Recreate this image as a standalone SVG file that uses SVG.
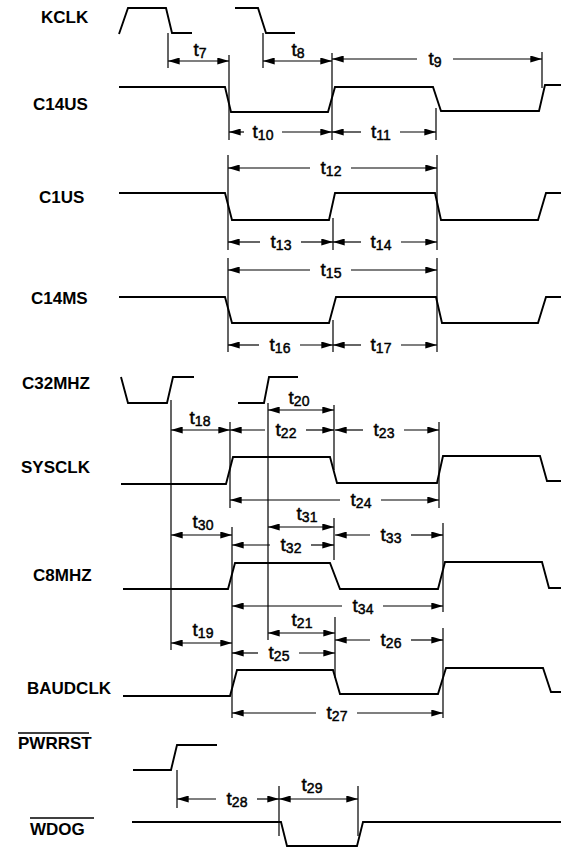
<svg xmlns="http://www.w3.org/2000/svg" width="561" height="849" viewBox="0 0 561 849">
<defs>
<marker id="ah" viewBox="0 0 10 6" refX="10" refY="3" markerWidth="13" markerHeight="7" markerUnits="userSpaceOnUse" orient="auto-start-reverse"><path d="M0,0 L10,3 L0,6 z" fill="#000"/></marker>
</defs>
<style>
.sig{font-family:"Liberation Sans",Arial,sans-serif;font-weight:bold;font-size:17px;fill:#000}
.wave{fill:none;stroke:#000;stroke-width:1.9;stroke-linejoin:miter}
.ext{stroke:#000;stroke-width:1.2;fill:none}
.arr{stroke:#000;stroke-width:1.2;fill:none;marker-end:url(#ah)}
.arr2{stroke:#000;stroke-width:1.2;fill:none;marker-start:url(#ah);marker-end:url(#ah)}
.tl{font-family:"Liberation Sans",Arial,sans-serif;font-size:19px;fill:#000;stroke:#000;stroke-width:0.45;text-anchor:middle}
.sub{font-size:14px}
.ovl{stroke:#000;stroke-width:1.6}
</style>
<rect width="561" height="849" fill="#fff"/>

<g id="KCLK">
<text class="sig" x="41" y="23">KCLK</text>
<path class="wave" d="M119,34 L128,8 L166,8 L172,33 L192,33"/>
<path class="wave" d="M235,8 L258,8 L266,33 L295,33"/>
</g>
<g id="C14US">
<text class="sig" x="33" y="110">C14US</text>
<path class="wave" d="M119,87 L225,87 L231,112 L328,112 L335,87 L433,87 L441,111 L539,111 L545,85 L561,85"/>
</g>
<g id="C1US">
<text class="sig" x="39" y="203">C1US</text>
<path class="wave" d="M119,193 L225,193 L232,220 L329,220 L335,193 L435,193 L441,220 L538,220 L546,193 L561,193"/>
</g>
<g id="C14MS">
<text class="sig" x="31" y="304">C14MS</text>
<path class="wave" d="M119,297 L225,297 L232,323 L329,323 L336,297 L436,297 L442,323 L538,323 L546,297 L561,297"/>
</g>
<g id="C32MHZ">
<text class="sig" x="22" y="389">C32MHZ</text>
<path class="wave" d="M121,377 L128,403 L167,403 L173,377 L194,377"/>
<path class="wave" d="M238,403 L264,403 L269,377 L298,377"/>
</g>
<g id="SYSCLK">
<text class="sig" x="21" y="473">SYSCLK</text>
<path class="wave" d="M121,484 L226,484 L233,457 L330,457 L337,483 L437,483 L443,456 L540,456 L547,481 L561,481"/>
</g>
<g id="C8MHZ">
<text class="sig" x="33" y="581">C8MHZ</text>
<path class="wave" d="M123,589 L228,589 L235,563 L330,563 L340,589 L438,589 L445,562 L542,562 L549,588 L561,588"/>
</g>
<g id="BAUDCLK">
<text class="sig" x="27" y="694">BAUDCLK</text>
<path class="wave" d="M123,696 L230,696 L237,670 L333,670 L340,694 L438,694 L446,668 L543,668 L551,692 L561,692"/>
</g>
<g id="PWRRST">
<text class="sig" x="18" y="749">PWRRST</text>
<line class="ovl" x1="18" y1="733" x2="89" y2="733"/>
<path class="wave" d="M133,770 L171,770 L177,745 L217,745"/>
</g>
<g id="WDOG">
<text class="sig" x="30" y="835">WDOG</text>
<line class="ovl" x1="30" y1="818" x2="94" y2="818"/>
<path class="wave" d="M132,822 L281,822 L287,846 L357,846 L363,822 L561,822"/>
</g>

<g id="connectors">
<path class="ext" d="M168,33 V68 M229,55 V140 M263,33 V68 M332,53 V140 M542,52 V88 M436,108 V140
M228,155 V250 M333,218 V250 M437,155 V250
M228,258 V352 M333,320 V352 M437,258 V352
M171,400 V650 M268,403 V640 M230,422 V508 M334,405 V470 M439,422 V508
M232,527 V718 M334,518 V560 M443,523 V612 M335,617 V678 M443,628 V718
M177,770 V808 M279,786 V836 M358,786 V836"/>

<line class="arr2" x1="168" y1="61" x2="229" y2="61"/>
<line class="arr2" x1="263" y1="61" x2="332" y2="61"/>
<line class="arr2" x1="171" y1="430" x2="230" y2="430"/>
<line class="arr2" x1="268" y1="410" x2="334" y2="410"/>
<line class="arr2" x1="171" y1="535" x2="232" y2="535"/>
<line class="arr2" x1="268" y1="527" x2="334" y2="527"/>
<line class="arr2" x1="268" y1="633" x2="335" y2="633"/>
<line class="arr2" x1="171" y1="643" x2="232" y2="643"/>
<line class="arr2" x1="279" y1="799" x2="358" y2="799"/>

<path class="arr" d="M417,59 H332"/><path class="arr" d="M453,59 H542"/>
<path class="arr" d="M244,132 H229"/><path class="arr" d="M282,132 H332"/>
<path class="arr" d="M361,132 H332"/><path class="arr" d="M400,132 H436"/>
<path class="arr" d="M310,168 H228"/><path class="arr" d="M351,168 H437"/>
<path class="arr" d="M260,242 H228"/><path class="arr" d="M301,242 H333"/>
<path class="arr" d="M361,242 H333"/><path class="arr" d="M401,242 H437"/>
<path class="arr" d="M310,270 H228"/><path class="arr" d="M351,270 H437"/>
<path class="arr" d="M259,345 H228"/><path class="arr" d="M300,345 H333"/>
<path class="arr" d="M361,345 H333"/><path class="arr" d="M401,345 H437"/>
<path class="arr" d="M265,430 H230"/><path class="arr" d="M306,430 H334"/>
<path class="arr" d="M363,430 H335"/><path class="arr" d="M404,430 H439"/>
<path class="arr" d="M340,500 H230"/><path class="arr" d="M381,500 H439"/>
<path class="arr" d="M270,545 H232"/><path class="arr" d="M311,545 H334"/>
<path class="arr" d="M370,535 H335"/><path class="arr" d="M411,535 H443"/>
<path class="arr" d="M342,606 H232"/><path class="arr" d="M383,606 H443"/>
<path class="arr" d="M370,640 H335"/><path class="arr" d="M411,640 H443"/>
<path class="arr" d="M258,653 H232"/><path class="arr" d="M299,653 H335"/>
<path class="arr" d="M316,713 H232"/><path class="arr" d="M357,713 H443"/>
<path class="arr" d="M216,799 H177"/><path class="arr" d="M257,799 H279"/>
</g>

<g id="labels">
<text class="tl" x="200" y="56">t<tspan class="sub" dy="2">7</tspan></text>
<text class="tl" x="298" y="56">t<tspan class="sub" dy="2">8</tspan></text>
<text class="tl" x="435" y="65">t<tspan class="sub" dy="2">9</tspan></text>
<text class="tl" x="263" y="138">t<tspan class="sub" dy="2">10</tspan></text>
<text class="tl" x="381" y="138">t<tspan class="sub" dy="2">11</tspan></text>
<text class="tl" x="331" y="174">t<tspan class="sub" dy="2">12</tspan></text>
<text class="tl" x="281" y="248">t<tspan class="sub" dy="2">13</tspan></text>
<text class="tl" x="381" y="248">t<tspan class="sub" dy="2">14</tspan></text>
<text class="tl" x="331" y="276">t<tspan class="sub" dy="2">15</tspan></text>
<text class="tl" x="280" y="351">t<tspan class="sub" dy="2">16</tspan></text>
<text class="tl" x="381" y="351">t<tspan class="sub" dy="2">17</tspan></text>
<text class="tl" x="200" y="424">t<tspan class="sub" dy="2">18</tspan></text>
<text class="tl" x="299" y="404">t<tspan class="sub" dy="2">20</tspan></text>
<text class="tl" x="286" y="436">t<tspan class="sub" dy="2">22</tspan></text>
<text class="tl" x="384" y="436">t<tspan class="sub" dy="2">23</tspan></text>
<text class="tl" x="361" y="506">t<tspan class="sub" dy="2">24</tspan></text>
<text class="tl" x="307" y="520">t<tspan class="sub" dy="2">31</tspan></text>
<text class="tl" x="203" y="528">t<tspan class="sub" dy="2">30</tspan></text>
<text class="tl" x="291" y="551">t<tspan class="sub" dy="2">32</tspan></text>
<text class="tl" x="391" y="541">t<tspan class="sub" dy="2">33</tspan></text>
<text class="tl" x="363" y="612">t<tspan class="sub" dy="2">34</tspan></text>
<text class="tl" x="302" y="626">t<tspan class="sub" dy="2">21</tspan></text>
<text class="tl" x="203" y="636">t<tspan class="sub" dy="2">19</tspan></text>
<text class="tl" x="391" y="646">t<tspan class="sub" dy="2">26</tspan></text>
<text class="tl" x="279" y="659">t<tspan class="sub" dy="2">25</tspan></text>
<text class="tl" x="337" y="719">t<tspan class="sub" dy="2">27</tspan></text>
<text class="tl" x="237" y="805">t<tspan class="sub" dy="2">28</tspan></text>
<text class="tl" x="312" y="791">t<tspan class="sub" dy="2">29</tspan></text>
</g>
</svg>
